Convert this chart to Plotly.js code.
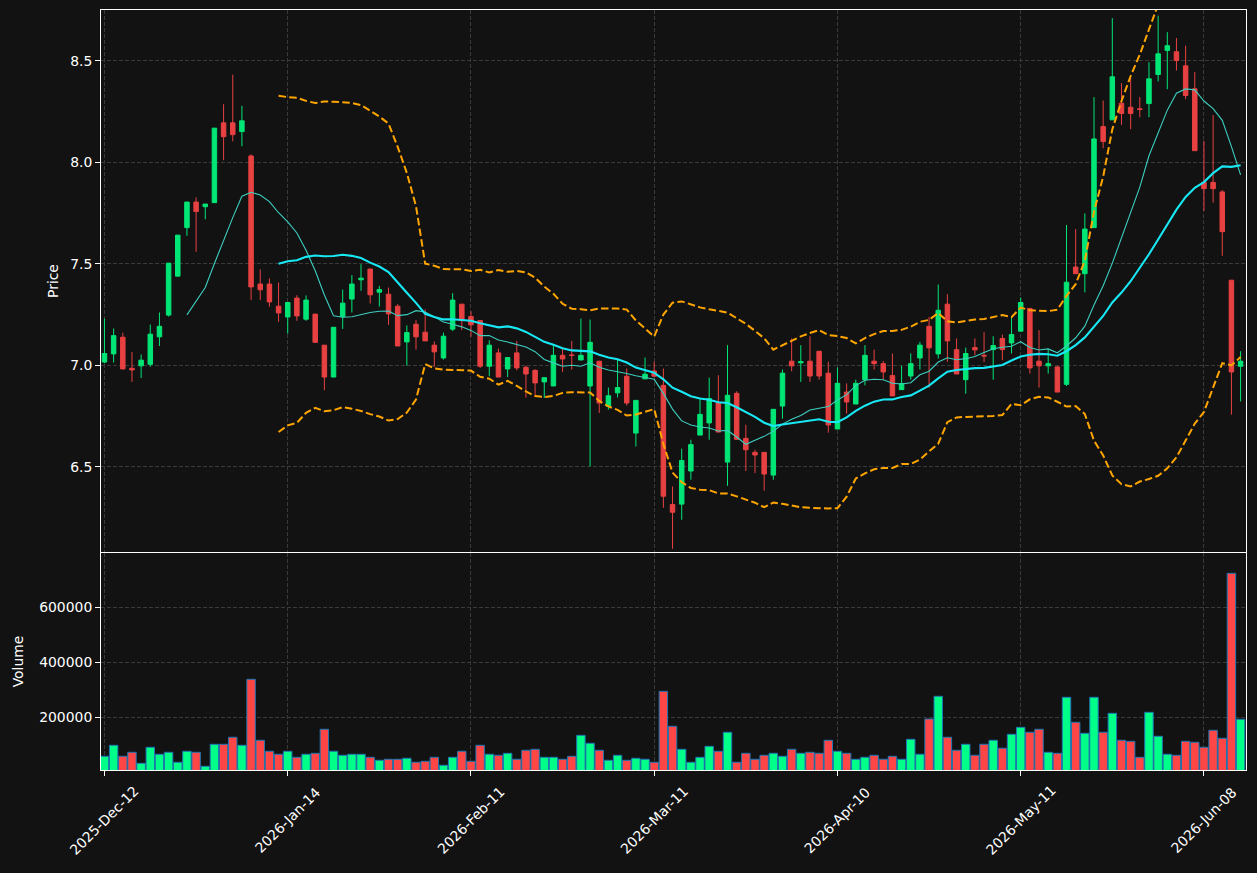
<!DOCTYPE html>
<html><head><meta charset="utf-8">
<script src="https://cdn.plot.ly/plotly-3.0.1.min.js"></script>
<style>html,body{margin:0;padding:0;background:#121212;} #chart{width:1257px;height:873px;}</style>
</head><body><div id="chart"></div>
<script>
// Tick positions (bar index) and labels
const tickIdx = [0, 20, 40, 60, 80, 100, 120];
const tickLabels = ['2025-Dec-12', '2026-Jan-14', '2026-Feb-11', '2026-Mar-11', '2026-Apr-10', '2026-May-11', '2026-Jun-08'];

const opens = [7.016,7.056,7.138,6.985,6.997,7.005,7.140,7.247,7.439,7.678,
7.804,7.781,7.801,8.194,8.194,8.151,8.031,7.400,7.400,7.291,
7.238,7.331,7.227,7.252,7.099,6.942,7.240,7.326,7.421,7.474,
7.360,7.350,7.291,7.115,7.202,7.163,7.099,7.036,7.178,7.301,
7.240,7.220,6.995,7.061,6.982,7.061,6.990,6.975,6.918,6.898,
7.049,7.051,7.026,6.898,7.020,6.798,6.864,6.946,6.666,6.933,
6.972,6.901,6.314,6.316,6.479,6.656,6.716,6.814,6.523,6.862,
6.640,6.571,6.571,6.459,6.799,7.020,7.012,7.020,7.069,6.961,
6.686,6.868,6.809,6.929,7.020,7.008,6.949,6.880,6.947,7.036,
7.192,7.056,7.301,7.077,6.929,7.087,7.049,7.077,7.132,7.110,
7.168,7.280,7.020,6.997,6.992,6.906,7.484,7.451,7.678,8.176,
8.209,8.291,8.271,8.263,8.289,8.432,8.551,8.544,8.475,8.362,
7.901,7.901,7.854,7.419,6.995];
const highs = [7.230,7.181,7.160,7.066,7.053,7.201,7.260,7.503,7.641,7.804,
7.827,7.794,8.168,8.286,8.431,8.278,8.039,7.472,7.428,7.408,
7.309,7.345,7.344,7.252,7.099,7.187,7.373,7.444,7.498,7.474,
7.391,7.383,7.301,7.196,7.222,7.275,7.117,7.161,7.355,7.301,
7.266,7.222,7.123,7.082,7.038,7.120,6.998,6.980,6.939,7.105,
7.086,7.120,7.230,7.225,7.020,6.890,7.030,6.984,6.827,7.038,
7.018,6.984,6.403,6.589,6.633,6.836,6.939,6.951,7.099,6.872,
6.707,6.584,6.571,6.783,6.979,7.132,7.099,7.143,7.069,7.018,
6.989,6.911,6.929,7.099,7.077,7.021,7.058,6.997,7.058,7.115,
7.238,7.398,7.350,7.132,7.087,7.132,7.163,7.143,7.151,7.242,
7.334,7.280,7.173,7.079,6.995,7.691,7.671,7.748,8.321,8.304,
8.710,8.390,8.414,8.321,8.493,8.722,8.641,8.612,8.574,8.444,
8.105,8.232,7.863,7.419,7.069];
const lows = [7.010,7.013,6.980,6.918,6.937,6.993,7.095,7.240,7.439,7.638,
7.559,7.719,7.800,8.010,8.103,8.079,7.321,7.321,7.288,7.214,
7.156,7.219,7.219,7.113,6.877,6.942,7.179,7.260,7.367,7.304,
7.289,7.199,7.095,6.998,7.077,7.120,6.992,7.028,7.169,7.173,
7.140,6.987,6.946,6.942,6.942,6.975,6.841,6.844,6.839,6.898,
6.967,6.979,7.026,6.502,6.765,6.781,6.841,6.801,6.600,6.933,
6.946,6.298,6.096,6.239,6.436,6.656,6.633,6.671,6.406,6.635,
6.479,6.469,6.382,6.436,6.737,6.970,6.918,6.918,6.929,6.668,
6.686,6.762,6.809,6.901,6.979,6.929,6.849,6.880,6.929,6.979,
6.890,7.033,7.016,6.957,6.860,7.049,7.016,6.929,7.025,7.058,
7.168,6.959,6.890,6.959,6.868,6.898,7.451,7.359,7.678,8.069,
8.209,8.184,8.163,8.222,8.222,8.398,8.360,8.452,8.311,8.057,
7.760,7.801,7.539,6.757,6.822];
const closes = [7.058,7.146,6.982,6.977,7.025,7.153,7.192,7.503,7.641,7.804,
7.757,7.794,8.168,8.126,8.136,8.204,7.386,7.372,7.312,7.258,
7.309,7.243,7.321,7.113,6.942,7.187,7.306,7.400,7.429,7.347,
7.373,7.253,7.095,7.161,7.140,7.120,7.066,7.143,7.321,7.220,
7.199,6.995,7.099,6.942,7.038,6.987,6.957,6.913,6.939,7.049,
7.031,7.048,7.049,7.113,6.814,6.850,6.890,6.814,6.827,6.956,
6.946,6.355,6.276,6.531,6.609,6.758,6.836,6.671,6.852,6.635,
6.584,6.558,6.464,6.783,6.961,6.997,7.018,6.947,6.947,6.706,
6.911,6.819,6.911,7.049,7.008,6.967,6.849,6.910,7.008,7.099,
7.086,7.271,7.120,6.957,7.058,7.076,7.046,7.097,7.077,7.151,
7.309,6.987,6.997,7.008,6.868,7.409,7.451,7.671,8.115,8.102,
8.421,8.240,8.240,8.260,8.411,8.534,8.574,8.501,8.329,8.057,
7.870,7.870,7.658,6.967,7.020];
const volumes = [58200,98200,58200,72700,32700,90900,65500,72700,36400,76400,
72700,21800,101800,101800,127300,98200,338200,116400,76400,65500,
76400,54500,65500,69100,156400,76400,61800,65500,65500,54500,
43600,47300,47300,50900,36400,40000,54500,25500,54500,76400,
40000,98200,65500,61800,69100,47300,80000,83600,54500,54500,
47300,58200,134500,105500,80000,43600,61800,43600,50900,47300,
36400,294500,167300,83600,36400,54500,94500,76400,145500,36400,
69100,47300,61800,69100,58200,83600,69100,72700,69100,116400,
76400,69100,47300,54500,61800,47300,58200,47300,120000,65500,
193900,276400,127300,80000,101800,61800,101800,116400,87300,138200,
163600,145500,156400,72700,69100,272700,181800,141800,272700,145500,
214500,116400,112700,54500,218200,130900,65500,61800,112700,109100,
90900,152700,123600,723600,192700];

const shortPeriod = 10, longPeriod = 20, bandWidth = 2;

const idx = closes.map((_, i) => i);
function rollMean(arr, n) {
  return arr.map((_, i) => {
    if (i < n - 1) return null;
    let s = 0; for (let k = i - n + 1; k <= i; k++) s += arr[k];
    return s / n;
  });
}
function rollStd(arr, n, mean) {
  return arr.map((_, i) => {
    if (i < n - 1) return null;
    let s = 0; for (let k = i - n + 1; k <= i; k++) s += (arr[k] - mean[i]) ** 2;
    return Math.sqrt(s / n);
  });
}
const maS = rollMean(closes, shortPeriod);
const maL = rollMean(closes, longPeriod);
const sd = rollStd(closes, longPeriod, maL);
const upper = maL.map((m, i) => m === null ? null : m + bandWidth * sd[i]);
const lower = maL.map((m, i) => m === null ? null : m - bandWidth * sd[i]);

const GREEN = '#00e676', RED = '#e84142';
const VGREEN = '#00ff88', VRED = '#ff4646';
const volColors = closes.map((c, i) => c >= opens[i] ? VGREEN : VRED);

const traces = [
  {type: 'candlestick', x: idx, open: opens, high: highs, low: lows, close: closes,
   xaxis: 'x', yaxis: 'y', whiskerwidth: 0, hoverinfo: 'skip',
   increasing: {line: {color: GREEN, width: 1}, fillcolor: GREEN},
   decreasing: {line: {color: RED, width: 1}, fillcolor: RED}, showlegend: false},
  {type: 'scatter', mode: 'lines', x: idx, y: upper, xaxis: 'x', yaxis: 'y',
   line: {color: '#ffa500', width: 2, dash: '7.5px,3.3px'}, showlegend: false, hoverinfo: 'skip'},
  {type: 'scatter', mode: 'lines', x: idx, y: lower, xaxis: 'x', yaxis: 'y',
   line: {color: '#ffa500', width: 2, dash: '7.5px,3.3px'}, showlegend: false, hoverinfo: 'skip'},
  {type: 'scatter', mode: 'lines', x: idx, y: maS, xaxis: 'x', yaxis: 'y',
   line: {color: '#3ccfc0', width: 1.1}, showlegend: false, hoverinfo: 'skip'},
  {type: 'scatter', mode: 'lines', x: idx, y: maL, xaxis: 'x', yaxis: 'y',
   line: {color: '#18e8f4', width: 2.1}, showlegend: false, hoverinfo: 'skip'},
  {type: 'bar', x: idx, y: volumes, xaxis: 'x2', yaxis: 'y2', width: 0.92,
   marker: {color: volColors, line: {color: '#1f77b4', width: 1}}, showlegend: false, hoverinfo: 'skip'}
];

const xr = [-0.38, 124.59];
const gridc = '#3a3a3a';
const gdash = '4px,2px';
const tf = {family: 'DejaVu Sans, sans-serif', size: 13.9, color: '#ffffff'};

const annotations = tickIdx.map((t, i) => ({
  x: t, xref: 'x2', y: -0.0658, yref: 'paper', text: tickLabels[i],
  showarrow: false, textangle: -45, xanchor: 'center', yanchor: 'middle', font: tf
}));

const layout = {
  width: 1257, height: 873,
  paper_bgcolor: '#121212', plot_bgcolor: '#121212',
  margin: {l: 101, r: 11, t: 10, b: 103},
  font: tf,
  showlegend: false,
  bargap: 0,
  annotations: annotations,
  xaxis: {domain: [0, 1], anchor: 'y', range: xr, tickvals: tickIdx, showticklabels: false,
    showgrid: true, gridcolor: gridc, griddash: gdash, gridwidth: 1, zeroline: false,
    showline: true, mirror: true, linecolor: '#ffffff', linewidth: 1, ticks: '',
    rangeslider: {visible: false}, fixedrange: true},
  yaxis: {domain: [0.2868, 1], anchor: 'x', range: [6.08, 8.75], tickvals: [6.5, 7.0, 7.5, 8.0, 8.5],
    tickformat: '.1f', ticks: 'outside', ticklen: 5, tickcolor: '#ffffff', tickfont: tf,
    showgrid: true, gridcolor: gridc, griddash: gdash, zeroline: false,
    showline: true, mirror: true, linecolor: '#ffffff', linewidth: 1,
    title: {text: 'Price', font: tf, standoff: 8}},
  xaxis2: {domain: [0, 1], anchor: 'y2', range: xr, tickvals: tickIdx, showticklabels: false,
    ticks: 'outside', ticklen: 5, tickcolor: '#ffffff',
    showgrid: true, gridcolor: gridc, griddash: gdash, zeroline: false,
    showline: true, mirror: true, linecolor: '#ffffff', linewidth: 1},
  yaxis2: {domain: [0, 0.2855], anchor: 'x2', range: [8360, 797460], tickvals: [200000, 400000, 600000],
    tickformat: 'd', ticks: 'outside', ticklen: 5, tickcolor: '#ffffff', tickfont: tf,
    showgrid: true, gridcolor: gridc, griddash: gdash, zeroline: false,
    showline: true, mirror: true, linecolor: '#ffffff', linewidth: 1,
    title: {text: 'Volume', font: tf, standoff: 12}}
};
Plotly.newPlot('chart', traces, layout, {staticPlot: true, displayModeBar: false});
</script>
</body></html>
